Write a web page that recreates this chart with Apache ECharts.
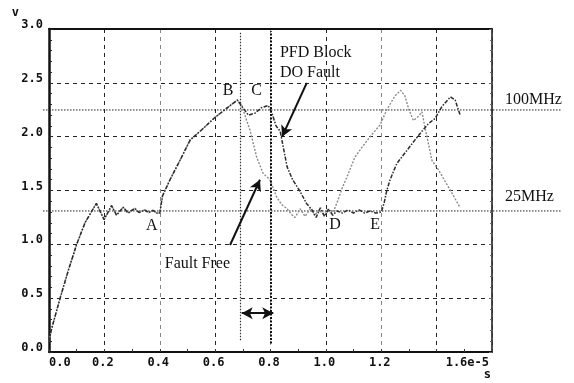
<!DOCTYPE html>
<html>
<head>
<meta charset="utf-8">
<script src="https://cdn.jsdelivr.net/npm/echarts@6/dist/echarts.min.js"></script>
<style>
  html, body { margin: 0; padding: 0; background: #fff; }
  #chart { width: 574px; height: 383px; }
</style>
</head>
<body>
<div id="chart"></div>
<script>
// time in units of 1e-5 s, voltage in V
const sharedTime = [0, 0.01, 0.04, 0.07, 0.1, 0.13, 0.171, 0.199, 0.226, 0.244, 0.268, 0.286, 0.31, 0.325, 0.345, 0.36, 0.375, 0.39, 0.4,
  0.41, 0.437, 0.473, 0.51, 0.55, 0.6, 0.64, 0.68]
const sharedVolt = [0.1, 0.22, 0.5, 0.76, 1.0, 1.2, 1.38, 1.23, 1.36, 1.27, 1.345, 1.29, 1.335, 1.295, 1.32, 1.295, 1.315, 1.29, 1.29,
  1.45, 1.6, 1.78, 1.97, 2.06, 2.18, 2.26, 2.34]

const faultFreeTime = [0.695, 0.71, 0.726, 0.75, 0.773, 0.798, 0.822, 0.84, 0.86, 0.875, 0.889, 0.907, 0.925, 0.943, 0.96, 0.975,
  0.99, 1.005, 1.02, 1.03, 1.045, 1.06, 1.08, 1.105, 1.13, 1.16, 1.196, 1.22, 1.25, 1.27, 1.285, 1.3, 1.316, 1.335, 1.347, 1.36,
  1.383, 1.407, 1.45, 1.485]
const faultFreeVolt = [2.3, 2.18, 2.06, 1.81, 1.66, 1.6, 1.44, 1.37, 1.33, 1.28, 1.25, 1.33, 1.26, 1.33, 1.27, 1.32,
  1.28, 1.32, 1.29, 1.32, 1.42, 1.53, 1.65, 1.81, 1.9, 2.0, 2.11, 2.25, 2.38, 2.43, 2.38, 2.25, 2.15, 2.19, 2.23, 2.06,
  1.78, 1.69, 1.5, 1.34]

const pfdFaultTime = [0.7, 0.72, 0.745, 0.768, 0.792, 0.805, 0.82, 0.835, 0.86, 0.88, 0.907, 0.93, 0.95, 0.965, 0.98, 0.995,
  1.01, 1.025, 1.04, 1.06, 1.08, 1.1, 1.12, 1.14, 1.16, 1.18, 1.2, 1.21, 1.22, 1.232, 1.256, 1.286, 1.322, 1.347, 1.37, 1.395,
  1.419, 1.45, 1.467, 1.485]
const pfdFaultVolt = [2.27, 2.2, 2.22, 2.27, 2.29, 2.22, 2.1, 2.05, 1.72, 1.6, 1.49, 1.38, 1.32, 1.25, 1.34, 1.26,
  1.33, 1.27, 1.31, 1.29, 1.32, 1.29, 1.32, 1.29, 1.31, 1.29, 1.3, 1.38, 1.5, 1.6, 1.75, 1.85, 1.97, 2.05, 2.12, 2.17,
  2.28, 2.37, 2.34, 2.2]

const xTickLabels = ['0.0', '0.2', '0.4', '0.6', '0.8', '1.0', '1.2', '', '1.6e-5']
const yTickLabels = ['0.0', '0.5', '1.0', '1.5', '2.0', '2.5', '3.0']

// reference levels (V) and marker times
const levelNames = ['100MHz', '25MHz']
const levelVolt = [2.248, 1.31]
const markerTime = [0.69, 0.8]

// annotation text anchors [t, v]
const pointNames = ['A', 'B', 'C', 'D', 'E']
const pointAnchors = [[0.371, 1.17], [0.647, 2.43], [0.75, 2.43], [1.033, 1.18], [1.178, 1.18]]
const noteTexts = ['PFD Block', 'DO Fault', 'Fault Free']
const noteAnchors = [[0.834, 2.777], [0.834, 2.594], [0.418, 0.817]]
const arrowLines = [
  [[0.931, 2.5], [0.842, 2.0]],
  [[0.654, 0.994], [0.762, 1.6]]
]
const spanArrow = [[0.696, 0.36], [0.81, 0.36]]

const zip = (ts, vs) => ts.map((t, i) => [t, vs[i]])
const faultFreeData = zip(sharedTime, sharedVolt).concat(zip(faultFreeTime, faultFreeVolt))
const pfdFaultData = zip(sharedTime, sharedVolt).concat(zip(pfdFaultTime, pfdFaultVolt))

const labelFont = {
  color: '#111',
  fontFamily: 'DejaVu Sans Mono',
  fontWeight: 'bold',
  fontSize: 12
}

const chart = echarts.init(document.getElementById('chart'))

chart.setOption({
  animation: false,
  backgroundColor: '#fff',
  grid: {
    left: 49,
    right: 82,
    top: 29,
    bottom: 31
  },
  xAxis: [
    {
      type: 'value',
      min: 0,
      max: 1.6,
      interval: 0.2,
      axisLine: { lineStyle: { color: '#111', width: 2 } },
      axisTick: { inside: true, length: 3, lineStyle: { color: '#333' } },
      minorTick: { show: true, splitNumber: 2, length: 3, lineStyle: { color: '#333' } },
      axisLabel: Object.assign({}, labelFont, {
        margin: 5,
        alignMinLabel: 'left',
        alignMaxLabel: 'right',
        padding: [0, 3, 0, 0],
        formatter: (v) => xTickLabels[Math.round(v / 0.2)]
      }),
      splitLine: {
        show: true,
        lineStyle: { color: ['#999', '#222', '#888', '#222'], type: [4, 4], width: 1 }
      },
      name: 's',
      nameLocation: 'end',
      nameGap: -1,
      nameTextStyle: Object.assign({}, labelFont, { align: 'right', verticalAlign: 'top', padding: [17, 0, 0, 0] })
    },
    {
      type: 'value',
      position: 'top',
      min: 0,
      max: 1.6,
      axisLine: { onZero: false, lineStyle: { color: '#111', width: 2 } },
      axisTick: { show: false },
      axisLabel: { show: false },
      splitLine: { show: false }
    }
  ],
  yAxis: [
    {
      type: 'value',
      min: 0,
      max: 3,
      interval: 0.5,
      axisLine: { show: true, lineStyle: { color: '#111', width: 2.5 } },
      axisTick: { show: true, inside: true, length: 4, lineStyle: { color: '#222' } },
      minorTick: { show: true, splitNumber: 5, length: 3, lineStyle: { color: '#222' } },
      axisLabel: Object.assign({}, labelFont, {
        margin: 6,
        verticalAlign: 'bottom',
        lineHeight: 8,
        formatter: (v) => yTickLabels[Math.round(v / 0.5)]
      }),
      splitLine: {
        show: true,
        lineStyle: { color: '#222', type: [4, 4], width: 1 }
      },
      name: 'v',
      nameLocation: 'end',
      nameGap: 9,
      nameTextStyle: Object.assign({}, labelFont, { align: 'right', padding: [0, 30, 0, 0] })
    },
    {
      type: 'value',
      position: 'right',
      min: 0,
      max: 3,
      interval: 0.5,
      axisLine: { show: true, onZero: false, lineStyle: { color: '#111', width: 1.5 } },
      axisTick: { show: true, inside: true, length: 3, lineStyle: { color: '#666' } },
      minorTick: { show: true, splitNumber: 5, length: 2, lineStyle: { color: '#666' } },
      axisLabel: { show: false },
      splitLine: { show: false }
    }
  ],
  series: [
    {
      name: 'Fault Free',
      type: 'line',
      showSymbol: false,
      data: faultFreeData,
      lineStyle: { color: '#8a8a8a', width: 1.4, type: [2, 1.5] },
      markLine: {
        silent: true,
        symbol: 'none',
        label: { show: false },
        data: [
          [
            { coord: [markerTime[0], 0.11], lineStyle: { color: '#333', width: 1.2, type: [1.5, 1.5] } },
            { coord: [markerTime[0], 2.98] }
          ],
          [
            { coord: [markerTime[1], 0.08], lineStyle: { color: '#111', width: 2, type: [2, 1.5] } },
            { coord: [markerTime[1], 2.98] }
          ]
        ]
      }
    },
    {
      name: 'PFD Block DO Fault',
      type: 'line',
      showSymbol: false,
      data: pfdFaultData,
      lineStyle: { color: '#2a2a2a', width: 1.5, type: [4, 1.5, 1.5, 1.5] },
      markLine: {
        silent: true,
        symbol: ['none', 'arrow'],
        symbolSize: [9, 11],
        label: { show: false },
        lineStyle: { color: '#111', width: 2, type: 'solid' },
        data: arrowLines.map(pair => [{ coord: pair[0] }, { coord: pair[1] }]).concat([
          [{ coord: spanArrow[0], symbol: 'arrow' }, { coord: spanArrow[1], symbol: 'arrow' }]
        ])
      }
    }
  ]
})

// text notes and reference levels placed through the chart's own scales
const toPx = (p) => chart.convertToPixel({ gridIndex: 0 }, p)
const serifText = { fill: '#111', font: '16px "Liberation Serif"' }
const graphics = []

pointNames.forEach((name, i) => {
  const p = toPx(pointAnchors[i])
  graphics.push({
    type: 'text', x: p[0], y: p[1],
    style: Object.assign({ text: name, align: 'center', verticalAlign: 'middle' }, serifText)
  })
})

noteTexts.forEach((txt, i) => {
  const p = toPx(noteAnchors[i])
  graphics.push({
    type: 'text', x: p[0], y: p[1],
    style: Object.assign({ text: txt, align: 'left', verticalAlign: 'middle' }, serifText)
  })
})

const labelOffsets = [10, 14]
levelNames.forEach((name, i) => {
  const y = toPx([0, levelVolt[i]])[1]
  graphics.push({
    type: 'line',
    shape: { x1: 43, y1: y, x2: 562, y2: y },
    style: { stroke: '#222', lineWidth: 1, lineDash: [1.5, 1.5] }
  })
  graphics.push({
    type: 'text', x: 505, y: y - labelOffsets[i],
    style: Object.assign({ text: name, align: 'left', verticalAlign: 'middle' }, serifText)
  })
})

chart.setOption({ graphic: graphics })
</script>
</body>
</html>
